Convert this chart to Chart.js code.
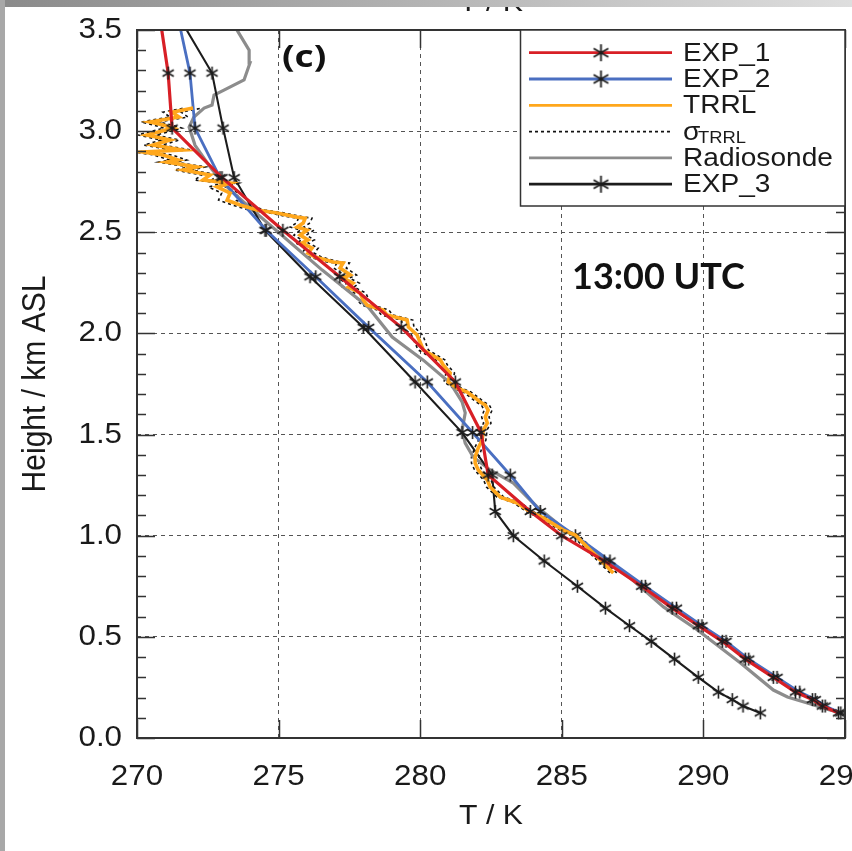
<!DOCTYPE html>
<html>
<head>
<meta charset="utf-8">
<script src="https://cdn.jsdelivr.net/npm/chart.js@4.4.0/dist/chart.umd.min.js"></script>
<style>
  html, body { margin: 0; padding: 0; background: #fff; overflow: hidden; }
  #wrap { position: relative; width: 852px; height: 851px; overflow: hidden; }
  #chart { position: absolute; left: 0; top: 0; }
  #topBar { position: absolute; left: 0; top: 0; width: 852px; height: 7px; background: linear-gradient(to right, #8a8a8a, #dedede); }
  #leftBar { position: absolute; left: 0; top: 0; width: 5px; height: 851px; background: #a8a8a8; }
</style>
</head>
<body>
<div id="wrap">
  <canvas id="chart" width="900" height="851"></canvas>
  <div id="topBar"></div>
  <div id="leftBar"></div>
</div>
<script>
// model levels (km ASL), shared by the three runs
const levelsKm = [0.124, 0.158, 0.19, 0.227, 0.30, 0.39, 0.478, 0.555, 0.642, 0.75, 0.875, 1.0,
  1.12, 1.3, 1.51, 1.76, 2.03, 2.28, 2.51, 2.77, 3.015, 3.287, 3.56];
const exp1T = [294.77, 294.2, 293.85, 293.25, 292.47, 291.48, 290.67, 289.82, 288.9, 287.82, 286.5, 285.0,
  283.89, 282.4, 282.15, 281.24, 279.33, 277.16, 275.15, 273.0, 271.24, 271.1, 270.81];
const exp2T = [294.85, 294.3, 293.95, 293.4, 292.6, 291.6, 290.8, 289.95, 289.05, 287.95, 286.7, 285.48,
  284.24, 283.18, 281.85, 280.25, 278.18, 276.31, 274.56, 272.93, 272.05, 271.87, 271.45];
const exp3T = [292.01, 291.4, 291.02, 290.53, 289.82, 288.98, 288.16, 287.39, 286.54, 285.55, 284.38, 283.29,
  282.65, 282.54, 281.48, 279.82, 277.99, 276.11, 274.52, 273.43, 273.04, 272.65, 271.5];

// radiosonde profile
const sondeH = [0.115, 0.138, 0.173, 0.203, 0.237, 0.371, 0.534, 0.648, 0.791, 1.038, 1.142, 1.260, 1.325,
  1.389, 1.458, 1.522, 1.607, 1.661, 1.755, 1.868, 1.982, 2.131, 2.313, 2.620, 2.709, 2.810, 2.930, 3.020,
  3.070, 3.114, 3.129, 3.178, 3.203, 3.253, 3.337, 3.400, 3.500, 3.550];
const sondeT = [295.20, 294.49, 293.67, 292.97, 292.47, 291.31, 289.79, 288.59, 287.42, 285.05, 284.13, 283.29, 282.47,
  281.87, 281.59, 281.48, 281.59, 281.48, 281.06, 280.11, 279.01, 278.16, 276.54, 274.00, 273.29, 272.65, 272.05, 271.84,
  272.01, 272.37, 272.65, 272.72, 273.07, 273.78, 273.99, 273.96, 273.53, 273.39];

// TRRL lidar profile and its uncertainty
const trrlH = [0.816, 0.845, 0.914, 0.979, 1.003, 1.028, 1.088, 1.117, 1.162, 1.191,
  1.241, 1.275, 1.325, 1.359, 1.389, 1.434, 1.473, 1.523, 1.557, 1.587,
  1.621, 1.646, 1.661, 1.681, 1.710, 1.730, 1.760, 1.804, 1.844, 1.869,
  1.918, 1.992, 2.032, 2.066, 2.091, 2.116, 2.140, 2.165, 2.200, 2.229,
  2.249, 2.274, 2.289, 2.323, 2.348, 2.353, 2.378, 2.397, 2.422, 2.447,
  2.462, 2.486, 2.511, 2.526, 2.546, 2.570, 2.575, 2.595, 2.610, 2.635,
  2.659, 2.694, 2.724, 2.743, 2.758, 2.783, 2.808, 2.823, 2.847, 2.857,
  2.882, 2.897, 2.907, 2.931, 2.956, 2.981, 3.015, 3.030, 3.045, 3.070,
  3.094, 3.114];
const trrlT = [286.82, 286.61, 286.11, 285.65, 285.48, 285.05, 284.35, 283.89, 283.43, 282.83,
  282.47, 282.37, 282.05, 281.94, 281.94, 282.05, 282.19, 282.23, 282.37, 282.30,
  282.40, 282.30, 282.12, 281.94, 281.66, 281.31, 280.99, 281.06, 280.81, 280.71,
  280.11, 279.89, 279.58, 279.54, 278.83, 278.69, 278.13, 277.99, 277.88, 277.46,
  277.63, 277.28, 277.53, 277.17, 277.28, 276.93, 276.29, 276.04, 276.18, 275.83,
  276.04, 275.76, 276.01, 275.65, 275.87, 275.94, 275.65, 274.95, 274.24, 273.64,
  273.18, 273.29, 272.83, 273.29, 272.33, 272.58, 271.63, 272.12, 271.06, 271.45,
  270.92, 270.21, 271.59, 270.57, 271.17, 270.35, 271.27, 270.92, 270.46, 271.48,
  271.24, 271.98];
const trrlSigma = [0.12, 0.12, 0.12, 0.12, 0.12, 0.12, 0.12, 0.12, 0.12, 0.12,
  0.13, 0.13, 0.13, 0.13, 0.13, 0.13, 0.13, 0.13, 0.13, 0.13,
  0.14, 0.14, 0.14, 0.14, 0.14, 0.15, 0.15, 0.15, 0.15, 0.16,
  0.18, 0.2, 0.2, 0.2, 0.2, 0.2, 0.2, 0.2, 0.2, 0.2,
  0.22, 0.22, 0.22, 0.22, 0.22, 0.22, 0.22, 0.22, 0.22, 0.22,
  0.22, 0.22, 0.24, 0.24, 0.24, 0.24, 0.26, 0.26, 0.28, 0.28,
  0.3, 0.3, 0.3, 0.3, 0.3, 0.3, 0.3, 0.3, 0.3, 0.3,
  0.32, 0.32, 0.32, 0.32, 0.32, 0.32, 0.32, 0.32, 0.32, 0.32,
  0.32, 0.32];

const xTicks = [270, 275, 280, 285, 290, 295];
const yTicks = [0, 0.5, 1.0, 1.5, 2.0, 2.5, 3.0, 3.5];

const RED = '#d81f26', BLUE = '#4a6fc1', ORANGE = '#ffa71c', GRAY = '#8c8c8c', BLACK = '#1c1c1c';
const SX = 1.08; // text in the picture is a bit wider than the font

function star(size, lw) {
  const c = document.createElement('canvas');
  c.width = size; c.height = size;
  const g = c.getContext('2d');
  g.strokeStyle = BLACK; g.lineWidth = lw;
  const r = size / 2 - 1, m = size / 2;
  g.beginPath();
  [90, 30, 150].forEach(a => {
    const dx = r * Math.cos(a * Math.PI / 180), dy = r * Math.sin(a * Math.PI / 180);
    g.moveTo(m - dx, m - dy); g.lineTo(m + dx, m + dy);
  });
  g.stroke();
  return c;
}
const starSmall = star(15, 1.6);
const starBig = star(19, 1.8);

const pts = (xs, ys) => xs.map((v, i) => ({ x: v, y: ys[i] }));

function lineSet(label, data, color, width, extra) {
  return Object.assign({
    label, data, borderColor: color, backgroundColor: color, borderWidth: width,
    pointRadius: 0, tension: 0, fill: false
  }, extra || {});
}

const datasets = [
  lineSet('EXP_1', pts(exp1T, levelsKm), RED, 3.2, { pointRadius: 7, pointStyle: starSmall }),
  lineSet('TRRL', pts(trrlT, trrlH), ORANGE, 3.6),
  lineSet('EXP_2', pts(exp2T, levelsKm), BLUE, 2.8, { pointRadius: 7, pointStyle: starSmall }),
  lineSet('EXP_3', pts(exp3T, levelsKm), BLACK, 2.1, { pointRadius: 7, pointStyle: starSmall }),
  lineSet('Radiosonde', pts(sondeT, sondeH), GRAY, 3.2),
  lineSet('sigma-', pts(trrlT.map((t, i) => t - trrlSigma[i]), trrlH), '#111', 1.6, { borderDash: [3, 3] }),
  lineSet('sigma+', pts(trrlT.map((t, i) => t + trrlSigma[i]), trrlH), '#111', 1.6, { borderDash: [3, 3] })
];

const legendRows = [
  { text: 'EXP_1', color: RED, marker: true },
  { text: 'EXP_2', color: BLUE, marker: true },
  { text: 'TRRL', color: ORANGE },
  { text: 'σ', sub: 'TRRL', color: '#111', dash: true },
  { text: 'Radiosonde', color: GRAY },
  { text: 'EXP_3', color: BLACK, marker: true }
];

function txt(ctx, s, x, y, font, align, rot) {
  ctx.save();
  ctx.translate(x, y);
  if (rot) { ctx.rotate(rot); ctx.scale(1, SX); } else ctx.scale(SX, 1);
  ctx.font = font;
  ctx.fillStyle = '#1a1a1a';
  ctx.textAlign = align;
  ctx.textBaseline = 'middle';
  ctx.fillText(s, 0, 0);
  ctx.restore();
}

const decor = {
  id: 'decor',
  afterDraw(chart) {
    const { ctx, chartArea: a, scales: { x, y } } = chart;
    ctx.save();
    // inward ticks
    ctx.strokeStyle = '#333';
    ctx.lineWidth = 1.5;
    ctx.beginPath();
    for (let k = 0; k <= 35; k++) {
      const py = Math.round(y.getPixelForValue(k / 10)) + 0.5;
      const len = k % 5 === 0 ? 18 : 9;
      ctx.moveTo(a.left, py); ctx.lineTo(a.left + len, py);
      ctx.moveTo(a.right, py); ctx.lineTo(a.right - len, py);
    }
    xTicks.forEach(v => {
      const px = Math.round(x.getPixelForValue(v)) + 0.5;
      ctx.moveTo(px, a.bottom); ctx.lineTo(px, a.bottom - 18);
      ctx.moveTo(px, a.top); ctx.lineTo(px, a.top + 18);
    });
    ctx.stroke();
    // frame
    ctx.lineWidth = 2;
    ctx.strokeStyle = '#333';
    ctx.strokeRect(a.left, a.top, a.right - a.left, a.bottom - a.top);

    // tick labels
    const tickFont = '29px "Liberation Sans", Arial, sans-serif';
    xTicks.forEach(v => txt(ctx, String(v), x.getPixelForValue(v), a.bottom + 39, tickFont, 'center'));
    yTicks.forEach(v => txt(ctx, v.toFixed(1), a.left - 15, y.getPixelForValue(v), tickFont, 'right'));

    // axis titles
    txt(ctx, 'T / K', (a.left + a.right) / 2, a.bottom + 78, '28px "Liberation Sans", Arial, sans-serif', 'center');
    txt(ctx, 'Height / km ASL', 36, (a.top + a.bottom) / 2, '30px "Liberation Sans", Arial, sans-serif', 'center', -Math.PI / 2);
    // title of the panel above, cut off at the top
    txt(ctx, 'T / K', (a.left + a.right) / 2, 3, '28px "Liberation Sans", Arial, sans-serif', 'center');

    // panel letter and time
    ctx.fillStyle = '#111';
    ctx.textBaseline = 'middle';
    ctx.save();
    ctx.translate(282, 58);
    ctx.scale(1.2, 1);
    ctx.font = 'bold 31px "Open Sans", Lato, sans-serif';
    ctx.textAlign = 'left';
    ctx.fillText('(c)', 0, 0);
    ctx.restore();
    ctx.font = 'bold 36px Lato, "Open Sans", sans-serif';
    ctx.textAlign = 'left';
    ctx.fillText('13:00 UTC', 572, 277);

    // legend box
    const bx = 520.5, by = a.top, bw = a.right - 520.5, bh = 176;
    ctx.fillStyle = '#fff';
    ctx.fillRect(bx, by, bw, bh);
    ctx.strokeStyle = '#333';
    ctx.lineWidth = 1.5;
    ctx.strokeRect(bx, by, bw, bh);
    legendRows.forEach((r, i) => {
      const ry = 52.7 + i * 26.3;
      ctx.save();
      ctx.strokeStyle = r.color;
      ctx.lineWidth = r.dash ? 1.6 : 2.8;
      ctx.setLineDash(r.dash ? [3, 3] : []);
      ctx.beginPath();
      ctx.moveTo(529, ry); ctx.lineTo(672, ry);
      ctx.stroke();
      ctx.restore();
      if (r.marker) ctx.drawImage(starBig, 601 - starBig.width / 2, ry - starBig.height / 2);
      txt(ctx, r.text, 683, ry + 1, '26px "Liberation Sans", Arial, sans-serif', 'left');
      if (r.sub) txt(ctx, r.sub, 698, ry + 7, '17px "Liberation Sans", Arial, sans-serif', 'left');
    });
    ctx.restore();
  }
};

const ctx = document.getElementById('chart').getContext('2d');
new Chart(ctx, {
  type: 'line',
  data: { datasets },
  options: {
    responsive: false,
    animation: false,
    layout: { padding: { left: 0, top: 30, right: 55, bottom: 0 } },
    plugins: { legend: { display: false }, tooltip: { enabled: false } },
    scales: {
      x: {
        type: 'linear', min: 270, max: 295,
        ticks: { display: false, stepSize: 5 },
        grid: { color: '#555', lineWidth: 1, drawTicks: false },
        border: { display: false, dash: [4, 4] },
        afterFit(s) { s.height = 113; }
      },
      y: {
        type: 'linear', min: 0, max: 3.5,
        ticks: { display: false, stepSize: 0.5 },
        grid: { color: '#555', lineWidth: 1, drawTicks: false },
        border: { display: false, dash: [4, 4] },
        afterFit(s) { s.width = 137; }
      }
    }
  },
  plugins: [decor]
});
</script>
</body>
</html>
